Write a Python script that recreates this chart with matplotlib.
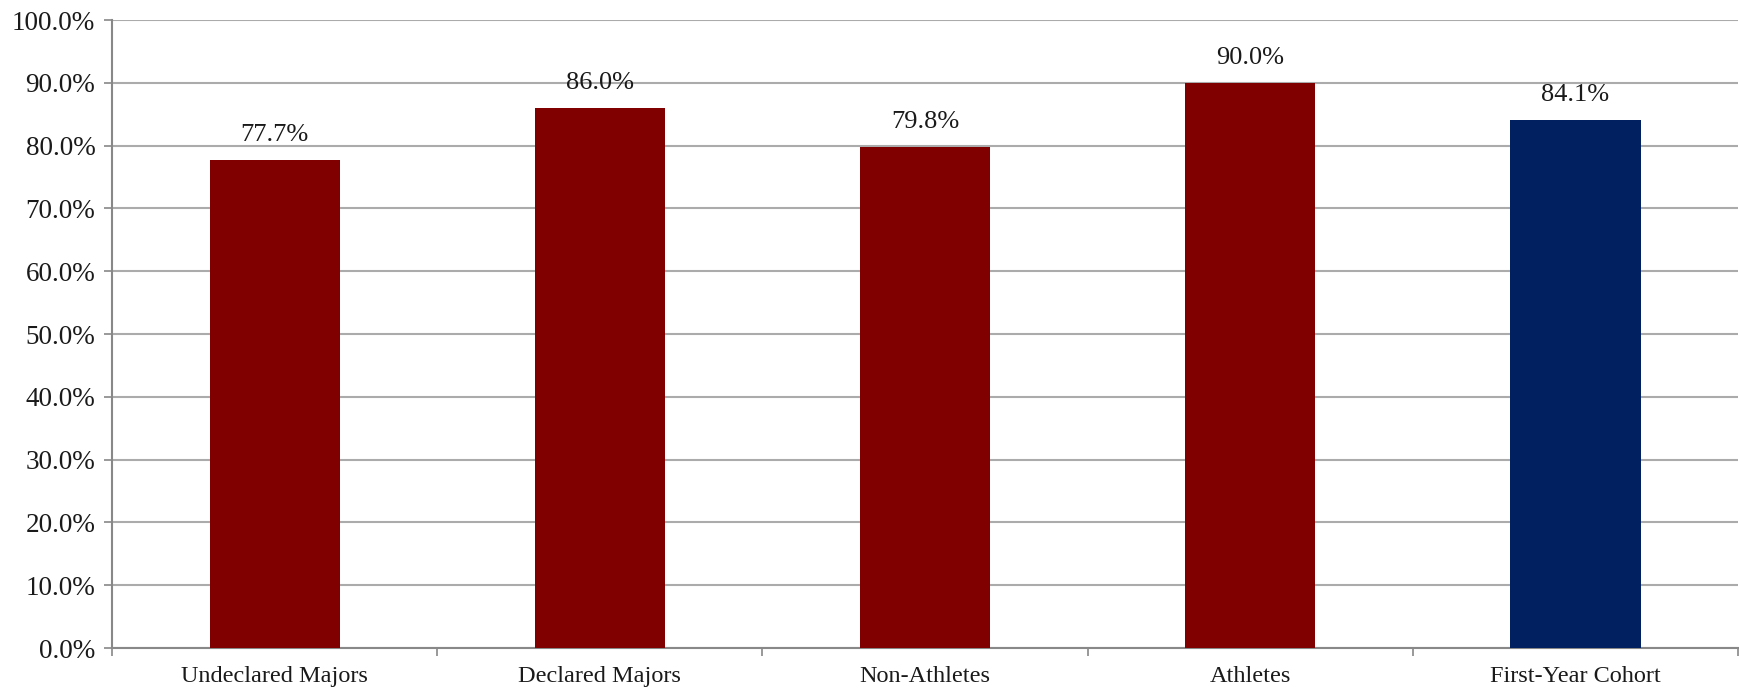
import matplotlib
matplotlib.use("Agg")
import matplotlib.pyplot as plt
from matplotlib.ticker import FuncFormatter, FixedLocator, MultipleLocator

categories = ["Undeclared Majors", "Declared Majors", "Non-Athletes", "Athletes", "First-Year Cohort"]
values = [77.7, 86.0, 79.8, 90.0, 84.1]
bar_colors = ["#800000", "#800000", "#800000", "#800000", "#002060"]

plt.rcParams["font.family"] = ["Liberation Serif", "DejaVu Serif"]

fig = plt.figure(figsize=(17.39, 6.89), dpi=100)
ax = fig.add_axes([112 / 1739, 1 - 648 / 689, 1 - 112 / 1739 - 0.0005, (648 - 20) / 689])

x = list(range(len(categories)))
bars = ax.bar(x, values, width=0.4, color=bar_colors, zorder=3)

for xi, v in zip(x, values):
    ax.annotate(f"{v:.1f}%", xy=(xi, v), xytext=(0, 10), textcoords="offset points",
                ha="center", va="bottom", fontsize=19, color="#1a1a1a")

ax.set_xlim(-0.5, len(categories) - 0.5)
ax.set_ylim(0, 100)
ax.yaxis.set_major_locator(MultipleLocator(10))
ax.yaxis.set_major_formatter(FuncFormatter(lambda v, p: f"{v:.1f}%"))
ax.grid(axis="y", color="#ababab", linewidth=1.5, zorder=0)
ax.set_axisbelow(True)

ax.set_xticks(x)
ax.set_xticklabels(categories)
ax.xaxis.set_minor_locator(FixedLocator([i - 0.5 for i in range(len(categories) + 1)]))
ax.tick_params(axis="x", which="major", length=0, pad=13, labelsize=17.5, labelcolor="#1a1a1a")
ax.tick_params(axis="x", which="minor", length=6, width=1.2, color="#888888", direction="out")
ax.tick_params(axis="y", length=6, width=1.2, color="#888888", direction="out", pad=6,
               labelsize=19.5, labelcolor="#1a1a1a")

for side in ["top", "right"]:
    ax.spines[side].set_visible(False)
for side in ["left", "bottom"]:
    ax.spines[side].set_color("#888888")
    ax.spines[side].set_linewidth(1.5)

fig.savefig("out.png", dpi=100)
